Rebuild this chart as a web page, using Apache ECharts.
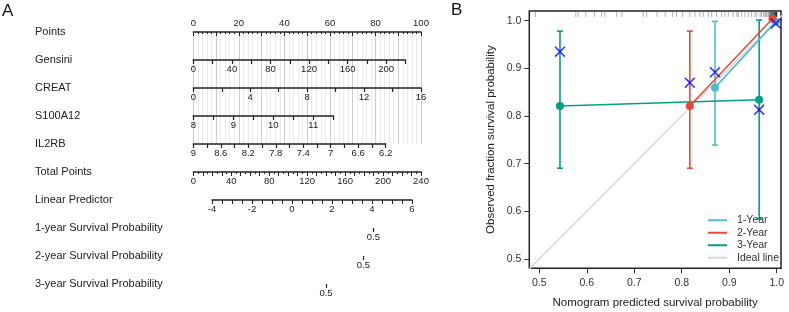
<!DOCTYPE html>
<html>
<head>
<meta charset="utf-8">
<script src="https://cdn.jsdelivr.net/npm/echarts@6/dist/echarts.min.js"></script>
<style>
html, body { margin: 0; padding: 0; background: #fff; }
#main { width: 789px; height: 312px; }
</style>
</head>
<body>
<div id="main"></div>
<script>
// ---- panel A: nomogram scales ----
const pointsLabels = [0, 20, 40, 60, 80, 100]
const gensiniTicks = [0, 20, 40, 60, 80, 100, 120, 140, 160, 180, 200, 220]
const gensiniLabels = [0, 40, 80, 120, 160, 200]
const creatTicks = [0, 2, 4, 6, 8, 10, 12, 14, 16]
const creatLabels = [0, 4, 8, 12, 16]
const s100Ticks = [8, 8.5, 9, 9.5, 10, 10.5, 11, 11.5]
const s100Labels = [8, 9, 10, 11]
const il2rbTicks = [9, 8.8, 8.6, 8.4, 8.2, 8, 7.8, 7.6, 7.4, 7.2, 7, 6.8, 6.6, 6.4, 6.2]
const il2rbLabels = [9, 8.6, 8.2, 7.8, 7.4, 7, 6.6, 6.2]
const totalLabels = [0, 40, 80, 120, 160, 200, 240]
const lpLabels = [-4, -2, 0, 2, 4, 6]
const survNames = ['1-year Survival Probability', '2-year Survival Probability', '3-year Survival Probability']
const survProb = 0.5
const survLP = [4.07, 3.57, 1.7] // linear predictor where survival = 0.5

// ---- panel B: calibration ----
const pred1 = [0.870, 0.998]
const obs1 = [0.8595, 0.998]
const lo1 = [0.739, null]
const hi1 = [0.9985, null]
const km1 = [0.892, 0.994]

const pred2 = [0.817, 0.991]
const obs2 = [0.821, 1.004]
const lo2 = [0.6905, null]
const hi2 = [0.978, null]
const km2 = [0.870, null]

const pred3 = [0.5436, 0.963]
const obs3 = [0.821, 0.834]
const lo3 = [0.6905, 0.584]
const hi3 = [0.978, 1.0015]
const km3 = [0.935, 0.813]

const idealLine = [0.4, 1.1]
const calibTicks = [0.5, 0.6, 0.7, 0.8, 0.9, 1.0]
const rugX = [0.492, 0.577, 0.582, 0.598, 0.616, 0.631, 0.638, 0.663, 0.674, 0.719, 0.726,
  0.748, 0.765, 0.781, 0.789, 0.802, 0.817, 0.828, 0.838, 0.845, 0.856, 0.863, 0.873,
  0.884, 0.891, 0.898, 0.908, 0.916, 0.919, 0.926, 0.933, 0.940, 0.947, 0.954, 0.958,
  0.965, 0.968, 0.972, 0.975, 0.977, 0.979, 0.982, 0.984, 0.986, 0.987, 0.989, 0.99,
  0.991, 0.993, 0.994, 0.995, 0.996, 0.997, 0.998, 0.999, 0.999, 1.0, 1.0,
  0.985, 0.988, 0.99, 0.992, 0.994, 0.996, 0.997, 0.998, 0.999, 1.0]

const colors = { y1: '#4DBBD5', y2: '#E64B35', y3: '#00A087', km: '#0000FF', ideal: '#d6d6d6' }
const FONT = 'Liberation Sans, Arial, sans-serif'

let myChart = echarts.init(document.getElementById('main'))

// nomogram rows (layout only)
const rows = [
  { name: 'Gensini', y: 60, left: 193.3, width: 212.2, min: 0, max: 220, ticks: gensiniTicks, labels: gensiniLabels },
  { name: 'CREAT', y: 88, left: 193.3, width: 227.7, min: 0, max: 16, ticks: creatTicks, labels: creatLabels },
  { name: 'S100A12', y: 116, left: 193.3, width: 140, min: 8, max: 11.5, ticks: s100Ticks, labels: s100Labels },
  { name: 'IL2RB', y: 144, left: 193.3, width: 192.4, min: 6.2, max: 9, inverse: true, ticks: il2rbTicks, labels: il2rbLabels },
  { name: 'Total Points', y: 172, left: 193.3, width: 227.7, min: 0, max: 240, interval: 10, labels: totalLabels },
  { name: 'Linear Predictor', y: 200, left: 212, width: 200, min: -4, max: 6, interval: 0.5, labels: lpLabels }
]
survNames.forEach((n, i) => {
  rows.push({ name: n, y: 228 + i * 28, left: 212, width: 200, min: -4, max: 6, noLine: true,
    ticks: [survLP[i]], labels: [survLP[i]], fmt: () => String(survProb) })
})

const axisColor = '#222'
let grids = []
let xAxes = []
let yAxes = []
let graphics = []

// Points row with the vertical reference lines
grids.push({ left: 193.3, width: 227.7, top: 32, height: 112, outerBoundsMode: 'none' })
xAxes.push({
  gridIndex: 0, type: 'value', position: 'top', min: 0, max: 100, interval: 10,
  axisLine: { onZero: false, lineStyle: { color: axisColor, width: 1.5 } },
  axisTick: { inside: true, length: 4, lineStyle: { color: axisColor } },
  minorTick: { show: true, splitNumber: 5, length: 2, lineStyle: { color: axisColor } },
  splitLine: { show: true, lineStyle: { color: '#cdcdcd', width: 1 } },
  minorSplitLine: { show: true, lineStyle: { color: '#ebebeb', width: 1 } },
  axisLabel: { customValues: pointsLabels, margin: 4, fontSize: 9.5, color: axisColor, fontFamily: FONT }
})
yAxes.push({ gridIndex: 0, show: false })
graphics.push({ type: 'text', x: 35, y: 32, style: { text: 'Points', font: '11px ' + FONT, fill: axisColor, verticalAlign: 'middle' } })

rows.forEach((r, k) => {
  const gi = k + 1
  grids.push({ left: r.left, width: r.width, top: r.y - 1, height: 1, outerBoundsMode: 'none' })
  const tick = r.ticks
    ? { customValues: r.ticks, length: 4, lineStyle: { color: axisColor, width: 1.2 } }
    : { length: 4, lineStyle: { color: axisColor, width: 1 } }
  xAxes.push({
    gridIndex: gi, type: 'value', position: 'bottom', min: r.min, max: r.max,
    interval: r.interval, inverse: !!r.inverse,
    axisLine: { show: !r.noLine, onZero: false, lineStyle: { color: axisColor, width: 1.5 } },
    axisTick: tick,
    minorTick: { show: r.name === 'Total Points', splitNumber: 2, length: 2, lineStyle: { color: axisColor } },
    splitLine: { show: false },
    axisLabel: { customValues: r.labels, margin: 4, fontSize: 9.5, color: axisColor, fontFamily: FONT, formatter: r.fmt }
  })
  yAxes.push({ gridIndex: gi, show: false })
  graphics.push({ type: 'text', x: 35, y: r.y, style: { text: r.name, font: '11px ' + FONT, fill: axisColor, verticalAlign: 'middle' } })
})

// panel B
const cg = grids.length
grids.push({
  left: 529.3, top: 11, width: 251.7, height: 257.3, show: true,
  borderColor: '#222', borderWidth: 1.5, backgroundColor: 'transparent', outerBoundsMode: 'none'
})
xAxes.push({
  gridIndex: cg, type: 'value', min: 0.479, max: 1.009,
  axisLine: { show: false, onZero: false },
  axisTick: { show: true, customValues: calibTicks, length: 5, lineStyle: { color: '#333' } },
  axisLabel: { customValues: calibTicks, formatter: v => v.toFixed(1), margin: 9, fontSize: 10.5, color: '#333', fontFamily: FONT },
  splitLine: { show: false },
  name: 'Nomogram predicted survival probability', nameLocation: 'middle', nameGap: 29,
  nameTextStyle: { fontSize: 11.5, color: '#222', fontFamily: FONT }
})
yAxes.push({
  gridIndex: cg, type: 'value', min: 0.4805, max: 1.0203,
  axisLine: { show: false, onZero: false },
  axisTick: { show: true, customValues: calibTicks, length: 5, lineStyle: { color: '#333' } },
  axisLabel: { customValues: calibTicks, formatter: v => v.toFixed(1), margin: 8, fontSize: 10.5, color: '#333', fontFamily: FONT },
  splitLine: { show: false },
  name: 'Observed fraction survival probability', nameLocation: 'middle', nameGap: 32,
  nameTextStyle: { fontSize: 11.5, color: '#222', fontFamily: FONT }
})

graphics.push({ type: 'text', x: 2, y: 11, style: { text: 'A', font: '17px ' + FONT, fill: '#111', verticalAlign: 'middle' } })
graphics.push({ type: 'text', x: 451, y: 10, style: { text: 'B', font: '17px ' + FONT, fill: '#111', verticalAlign: 'middle' } })

const yTop = 1.0203

function errorBars(pred, lo, hi, color) {
  let data = []
  pred.forEach((p, i) => { if (lo[i] != null) data.push([p, lo[i], hi[i]]) })
  return {
    type: 'custom', xAxisIndex: cg, yAxisIndex: cg, silent: true, z: 2,
    data: data, encode: { x: 0, y: [1, 2] },
    renderItem: (params, api) => {
      const b = api.coord([api.value(0), api.value(1)])
      const t = api.coord([api.value(0), api.value(2)])
      const st = { stroke: color, lineWidth: 1.6 }
      return {
        type: 'group', children: [
          { type: 'line', shape: { x1: t[0], y1: t[1], x2: b[0], y2: b[1] }, style: st },
          { type: 'line', shape: { x1: t[0] - 3, y1: t[1], x2: t[0] + 3, y2: t[1] }, style: st },
          { type: 'line', shape: { x1: b[0] - 3, y1: b[1], x2: b[0] + 3, y2: b[1] }, style: st }
        ]
      }
    }
  }
}

function calLine(name, pred, obs, color) {
  return {
    name: name, type: 'line', xAxisIndex: cg, yAxisIndex: cg, z: 3,
    data: pred.map((p, i) => [p, obs[i]]),
    symbol: 'circle', symbolSize: 8, showSymbol: true,
    lineStyle: { color: color, width: 1.6 }, itemStyle: { color: color },
    silent: true
  }
}

let kmData = []
;[[pred1, km1], [pred2, km2], [pred3, km3]].forEach(([p, k]) => {
  p.forEach((v, i) => { if (k[i] != null) kmData.push([v, k[i]]) })
})

let option = {
  animation: false,
  textStyle: { fontFamily: FONT },
  grid: grids,
  xAxis: xAxes,
  yAxis: yAxes,
  graphic: graphics,
  legend: {
    data: ['1-Year', '2-Year', '3-Year', 'Ideal line'],
    orient: 'vertical', left: 708, top: 214, padding: 0,
    icon: 'rect', itemWidth: 19, itemHeight: 2, itemGap: 0,
    selectedMode: false,
    textStyle: { fontSize: 10.5, color: '#333', lineHeight: 12.5, padding: [0, 0, 0, 5], fontFamily: FONT }
  },
  series: [
    {
      name: 'Ideal line', type: 'line', xAxisIndex: cg, yAxisIndex: cg, z: 1,
      data: idealLine.map(v => [v, v]), symbol: 'none', silent: true, clip: true,
      lineStyle: { color: colors.ideal, width: 1.4 }, itemStyle: { color: colors.ideal }
    },
    {
      type: 'custom', xAxisIndex: cg, yAxisIndex: cg, silent: true, z: 1,
      data: rugX.map(v => [v, yTop]), encode: { x: 0, y: 1 },
      renderItem: (params, api) => {
        const p = api.coord([api.value(0), api.value(1)])
        return { type: 'line', shape: { x1: p[0], y1: p[1] + 1, x2: p[0], y2: p[1] + 6 },
          style: { stroke: 'rgba(0,0,0,0.3)', lineWidth: 1 } }
      }
    },
    errorBars(pred1, lo1, hi1, colors.y1),
    errorBars(pred2, lo2, hi2, colors.y2),
    errorBars(pred3, lo3, hi3, colors.y3),
    calLine('3-Year', pred3, obs3, colors.y3),
    calLine('1-Year', pred1, obs1, colors.y1),
    calLine('2-Year', pred2, obs2, colors.y2),
    {
      type: 'scatter', xAxisIndex: cg, yAxisIndex: cg, z: 4, silent: true,
      data: kmData,
      symbol: 'path://M0,1L1,0L5,4L9,0L10,1L6,5L10,9L9,10L5,6L1,10L0,9L4,5Z',
      symbolSize: 11, itemStyle: { color: colors.km }
    }
  ]
}

myChart.setOption(option)
</script>
</body>
</html>
